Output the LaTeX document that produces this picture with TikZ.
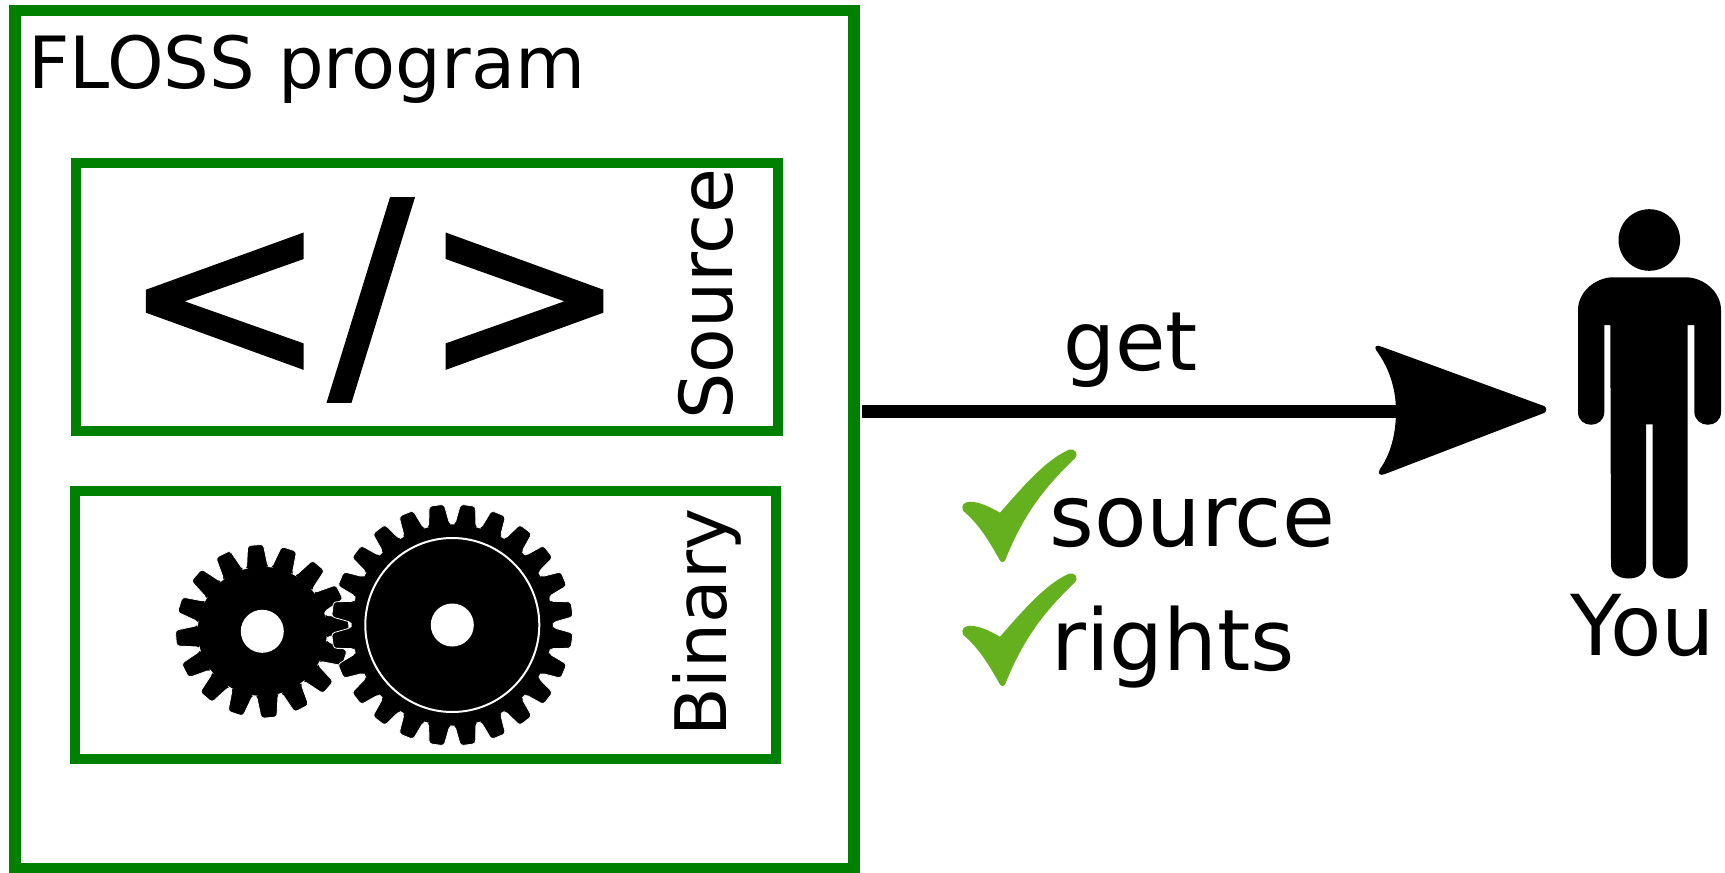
\documentclass[tikz,border=0pt]{standalone}
\usepackage{fontspec}
\setmainfont{DejaVu Sans}
\definecolor{flossgreen}{HTML}{008000}
\definecolor{tickgreen}{HTML}{64B01E}
\tikzset{
  box/.style={draw=flossgreen, line width=10pt},
  outerbox/.style={draw=flossgreen, line width=11.5pt},
  bigtext/.style={inner sep=0pt, font=\fontsize{#1}{#1}\selectfont},
  bigtext/.default=72,
  shaft/.style={draw=black, line width=13pt},
  pics/tick/.style={code={
    \fill[tickgreen] (963,510.7) .. controls (961,505) and (964,502) .. (970,501.7)
      .. controls (980,502) and (990,507) .. (1000,512.7)
      .. controls (1020,490) and (1045,460) .. (1069,449.7)
      .. controls (1075,448) and (1079,454) .. (1075,458.3)
      .. controls (1050,482) and (1025,510) .. (1005.5,559.5)
      .. controls (1004,563) and (1001,563) .. (999.3,559.3)
      .. controls (990,543) and (980,525) .. (963,510.7) -- cycle;
  }},
  pics/gear/.style n args={6}{code={
    % #1 teeth, #2 first tooth, #3 root radius, #4 tip radius, #5 root half angle, #6 tip half angle
    \pgfmathsetmacro{\pitch}{360/#1}
    \fill[rounded corners=3pt, draw=white, line width=.8pt]
      ({#2-#5}:#3)
      \foreach \n in {1,...,#1} {
        -- ({#2+(\n-1)*\pitch-#5}:#3) -- ({#2+(\n-1)*\pitch-#6}:#4)
        -- ({#2+(\n-1)*\pitch+#6}:#4) -- ({#2+(\n-1)*\pitch+#5}:#3)
      } -- cycle;
    \fill[white] (0,0) circle[radius=21.5];
  }},
}
\begin{document}
\begin{tikzpicture}[x=1pt, y=-1pt]
  \useasboundingbox (0,0) rectangle (1725,873);
  % boxes
  \draw[outerbox] (14.8,10.7) rectangle (854,869);
  \draw[box] (76,162.7) rectangle (778,431);
  \draw[box] (74.5,491) rectangle (776,759);
  \node[bigtext, anchor=base west] (floss) at (28,88.3) {FLOSS program};
  \node[bigtext=73, rotate=90, anchor=base west] (source) at (732,420) {Source};
  \node[bigtext=71, rotate=90, anchor=base west] (binary) at (726,737) {Binary};
  \node[bigtext=245, anchor=base west] (code) at (122,378) {\addfontfeature{FakeBold=1.8}<\kern2pt/\kern10pt>};
  % gears
  \pic at (262.3,631.3) {gear={16}{-4.5}{65}{87}{9.5}{5.2}};
  \pic at (452.3,625) {gear={24}{-7.5}{101}{121}{6}{3.6}};
  \draw[white, line width=2pt] (452.3,625) circle[radius=87];
  % arrow
  \coordinate (start) at (862,411.3);
  \coordinate (head) at (1396,411.3);
  \draw[shaft] (start) -- (head);
  \fill (head) .. controls (1396,387) and (1388,366) .. (1376,350)
    .. controls (1374,346) and (1377,345) .. (1381,346.5) -- (1544,406)
    .. controls (1547,408) and (1547,411) .. (1544,413) -- (1385,474)
    .. controls (1380,476) and (1377,474) .. (1380,469)
    .. controls (1390,455) and (1396,435) .. (head) -- cycle;
  \node[bigtext=82, anchor=base west] (get) at (1063,370) {get};
  \pic at (0,0) {tick};
  \pic at (0,124) {tick};
  \node[bigtext=86, anchor=base west] (srclabel) at (1049,546) {source};
  \node[bigtext=85, anchor=base west] (rights) at (1051,670) {rights};
  % person
  \fill (1649.3,240) circle[radius=30.8];
  \fill (1604.3,325) -- (1604.3,412) .. controls (1604,429) and (1578,429) .. (1578,412)
    -- (1578,310) .. controls (1578,292) and (1595,278) .. (1612,277.3) -- (1687,277.3)
    .. controls (1704,278) and (1721,292) .. (1721,310) -- (1721,412)
    .. controls (1721,429) and (1695,429) .. (1694.3,412)
    -- (1694.3,325) -- (1687.7,325) -- (1687.7,565) .. controls (1687,583) and (1653,583) .. (1652.7,565)
    -- (1652.7,424.3) -- (1646,424.3) -- (1646,565) .. controls (1646,583) and (1611,583) .. (1611,565)
    -- (1610.3,325) -- cycle;
  \node[bigtext=84, anchor=base west] (you) at (1570,655) {You};
\end{tikzpicture}
\end{document}
